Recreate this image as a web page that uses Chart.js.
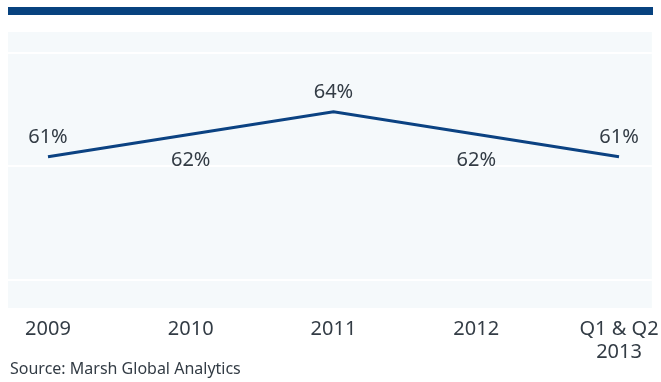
<!DOCTYPE html>
<html lang="en">
  <head>
    <meta charset="UTF-8" />
    <title>Marsh Global Analytics line chart</title>
    <script src="https://cdn.jsdelivr.net/npm/chart.js"></script>
    <style>
      body {
          margin: 0;
          width: 661px;
          height: 382px;
          background: #ffffff;
          position: relative;
          font-family: "Noto Sans", sans-serif;
      }
      .top-bar {
          position: absolute;
          left: 8px;
          top: 7px;
          width: 645px;
          height: 8px;
          background: #07427f;
      }
      .chart-wrapper {
          position: absolute;
          left: 0;
          top: 0;
          width: 661px;
          height: 366px;
      }
      .source {
          position: absolute;
          left: 10px;
          top: 357px;
          font-size: 16px;
          color: #333c45;
      }
    </style>
  </head>
  <body>
    <div class="top-bar"></div>
    <div class="chart-wrapper">
      <canvas id="lineChart"></canvas>
    </div>
    <div class="source">Source: Marsh Global Analytics</div>

    <script>
      var categories = ["2009", "2010", "2011", "2012", ["Q1 & Q2", "2013"]];
      var shares = [61.3, 62.4, 63.5, 62.4, 61.3];
      var labelSide = ["above", "below", "above", "below", "above"];

      var textColor = "#333c45";

      // light panel behind the plot
      var panelPlugin = {
        id: "panel",
        beforeDraw: function (chart) {
          var a = chart.chartArea;
          var ctx = chart.ctx;
          ctx.save();
          ctx.fillStyle = "#f5f9fb";
          ctx.fillRect(a.left, a.top, a.right - a.left, a.bottom - a.top);
          ctx.restore();
        },
      };

      // percent labels next to each point
      var valueLabels = {
        id: "valueLabels",
        afterDatasetsDraw: function (chart) {
          var ctx = chart.ctx;
          var meta = chart.getDatasetMeta(0);
          ctx.save();
          ctx.font = "20px 'Noto Sans'";
          ctx.fillStyle = textColor;
          ctx.textAlign = "center";
          ctx.textBaseline = "middle";
          meta.data.forEach(function (pt, i) {
            var y = labelSide[i] === "above" ? pt.y - 19 : pt.y + 26;
            ctx.fillText(Math.round(shares[i]) + "%", pt.x, y);
          });
          ctx.restore();
        },
      };

      var ctx = document.getElementById("lineChart").getContext("2d");

      var chart = new Chart(ctx, {
        type: "line",
        data: {
          datasets: [
            {
              data: shares.map(function (v, i) {
                return { x: i, y: v };
              }),
              borderColor: "#0b4282",
              borderWidth: 3,
              pointRadius: 0,
              tension: 0,
              fill: false,
            },
          ],
        },
        options: {
          responsive: true,
          maintainAspectRatio: false,
          animation: false,
          layout: {
            padding: { left: 8, right: 8, top: 32, bottom: 0 },
          },
          plugins: {
            legend: { display: false },
            tooltip: { enabled: false },
          },
          scales: {
            x: {
              type: "linear",
              min: -0.28,
              max: 4.23,
              afterBuildTicks: function (axis) {
                axis.ticks = categories.map(function (c, i) {
                  return { value: i };
                });
              },
              grid: { display: false },
              border: { display: false },
              ticks: {
                autoSkip: false,
                maxRotation: 0,
                padding: 2,
                color: textColor,
                font: { family: "Noto Sans", size: 20, lineHeight: 1.15 },
                callback: function (value) {
                  return categories[value];
                },
              },
            },
            y: {
              display: false,
              min: 53.9,
              max: 67.4,
            },
            bands: {
              position: "left",
              min: 0.753,
              max: 3.185,
              afterBuildTicks: function (axis) {
                axis.ticks = [1, 2, 3].map(function (v) {
                  return { value: v };
                });
              },
              grid: {
                color: "#ffffff",
                lineWidth: 2,
                drawTicks: false,
              },
              border: { display: false },
              ticks: { display: false },
            },
          },
        },
        plugins: [panelPlugin, valueLabels],
      });
    </script>
  </body>
</html>
